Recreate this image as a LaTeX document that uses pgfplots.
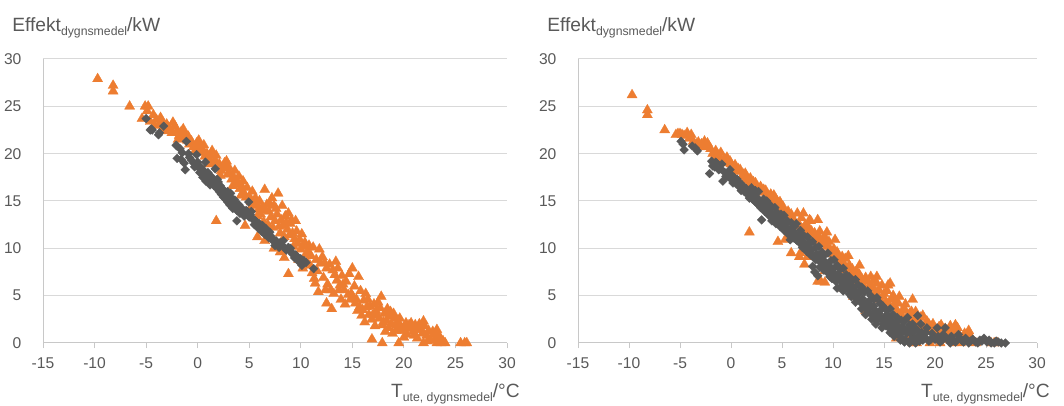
\documentclass[border=0pt]{standalone}
\usepackage{pgfplots}
\pgfplotsset{compat=1.18}
\usepackage{fontspec}
\setmainfont{Liberation Sans}
\definecolor{exorange}{HTML}{ED7D31}
\definecolor{exdark}{HTML}{595959}
\definecolor{txtgray}{HTML}{595959}
\definecolor{gridgray}{HTML}{D9D9D9}
\definecolor{axgray}{HTML}{C8C8C8}

\pgfplotsset{
  panel/.style={
    scale only axis, width=348pt, height=213pt,
    xmin=-15, xmax=30, ymin=0, ymax=30,
    xtick={-15,-10,...,30}, ytick={0,5,...,30},
    xticklabels={-15,-10,-5,0,5,10,15,20,25,30},
    yticklabels={0,5,10,15,20,25,30},
    axis x line*=bottom, axis y line*=left,
    axis line style={axgray, line width=0.75pt},
    ymajorgrids, grid style={gridgray, line width=0.75pt},
    tick align=outside, major tick length=4pt,
    xtick style={axgray, line width=0.75pt},
    ytick style={draw=none},
    ticklabel style={font=\fontsize{11.7}{13}\selectfont, text=txtgray, inner sep=0pt},
    xticklabel style={anchor=north, yshift=-7pt},
    yticklabel style={anchor=east, xshift=-12pt},
    clip=false,
  },
  ora/.style={only marks, mark=triangle*, mark size=4.4pt,
    mark options={fill=exorange, draw=exorange, line width=0.2pt}},
  drk/.style={only marks, mark=diamond*, mark size=3.3pt,
    mark options={fill=exdark, draw=exdark, xscale=1.33, line width=0.2pt}},
}
\tikzset{lbl/.style={inner sep=0pt, text=txtgray, font=\fontsize{14.4}{16}\selectfont}}
\newcommand{\sub}[1]{\raisebox{-2.6pt}{\fontsize{9.2}{10}\selectfont #1}}

\begin{document}
\begin{tikzpicture}
\useasboundingbox (0,0) rectangle (798pt,304.5pt);

% left panel
\begin{axis}[panel, at={(32.25pt,47.25pt)}, anchor=south west]
\addplot[ora] table {
x y
-9.7 27.9
-8.2 27.2
-8.2 26.6
-6.6 25.0
-5.1 25.0
-4.8 25.0
-5.4 23.7
-4.3 24.1
-4.6 23.4
-4.0 23.6
-3.8 23.0
-3.5 22.5
-3.4 23.3
-3.0 23.1
-2.7 22.7
-2.5 22.2
-2.2 22.9
-2.0 22.4
-1.8 21.9
-1.6 22.3
-1.3 21.6
-1.2 22.0
-1.0 21.4
-0.8 21.0
-0.6 21.3
-0.4 20.7
-0.1 21.1
0.0 20.4
0.2 20.8
0.3 20.1
0.5 20.4
0.7 19.7
0.9 20.0
1.1 19.4
1.3 19.8
1.5 19.0
1.7 19.3
1.9 18.6
2.1 18.9
2.3 18.2
2.5 18.5
2.8 19.2
2.9 17.8
3.1 18.0
3.3 17.3
3.5 17.5
3.7 16.8
3.9 17.0
4.1 16.3
4.3 16.5
4.5 15.8
4.7 15.4
5.0 15.5
5.2 14.9
5.4 14.5
5.7 14.8
5.9 14.1
6.1 13.6
6.3 14.3
6.5 16.2
6.7 14.6
6.9 13.9
7.1 13.3
7.2 15.3
7.4 14.5
7.5 12.9
7.8 15.8
7.7 13.6
7.9 12.3
8.1 13.0
8.3 12.4
8.5 13.4
8.8 13.7
8.7 12.0
9.0 12.6
9.2 11.6
9.5 12.9
9.4 11.0
9.7 10.5
10.0 9.9
10.2 10.2
10.5 9.4
10.8 10.3
10.6 8.6
10.9 8.2
11.1 7.4
11.3 6.8
11.4 6.3
11.7 5.4
11.8 9.9
12.1 9.1
12.3 8.5
12.5 7.9
12.4 5.6
12.5 4.2
13.0 3.6
12.8 8.3
13.1 7.7
13.3 7.2
13.5 6.6
13.6 7.9
13.8 6.1
14.0 7.1
14.2 5.6
14.4 6.5
14.6 5.1
14.8 4.6
15.0 7.9
15.2 6.0
15.3 4.2
15.6 7.0
15.5 3.4
15.8 5.5
15.9 2.9
16.1 4.5
16.3 5.2
16.4 3.8
16.6 3.0
16.9 2.5
16.9 0.4
17.1 4.1
17.3 3.4
17.5 4.3
17.6 2.6
17.8 4.9
17.9 1.9
17.9 0.0
18.1 3.1
18.3 2.4
18.5 1.6
18.7 3.3
18.9 1.0
19.1 2.6
19.3 1.9
19.5 0.0
19.6 2.6
19.8 1.3
20.0 0.6
20.2 2.1
20.4 1.5
20.7 2.1
20.9 1.2
21.1 1.9
21.3 0.5
21.5 2.0
21.7 1.4
21.9 2.3
21.9 0.0
22.2 0.8
22.4 1.3
22.6 0.3
22.9 0.9
23.2 1.4
23.2 0.0
23.5 0.6
23.8 0.2
24.0 0.0
25.5 0.0
25.9 0.0
26.1 0.0
1.8 12.9
4.6 12.4
5.8 11.2
6.5 10.8
7.4 10.0
8.0 9.6
8.4 9.0
8.8 7.3
9.8 8.8
10.2 7.9
-4.9 24.5
-4.2 23.0
-3.6 23.8
-3.1 22.4
-2.4 23.3
-1.9 21.5
-1.4 22.6
-0.9 21.8
-0.3 20.2
0.1 21.4
0.6 20.9
1.0 18.9
1.4 20.3
1.8 19.8
2.2 17.7
2.6 19.0
3.0 18.6
3.4 16.6
3.6 18.2
4.0 17.6
4.2 15.6
4.4 17.1
4.8 16.4
5.1 14.2
5.3 16.0
5.6 15.3
5.8 13.4
6.0 15.0
6.4 12.8
6.6 14.0
6.8 12.5
7.0 14.7
7.3 12.2
7.6 14.2
8.0 11.6
8.2 14.5
8.4 11.2
8.6 12.7
8.9 11.4
9.1 13.0
9.3 10.2
9.6 11.8
9.9 10.9
10.1 11.5
10.4 10.6
10.7 9.6
11.0 9.2
11.2 10.1
11.5 8.8
11.6 7.6
11.9 8.4
12.2 6.9
12.6 6.2
12.9 5.6
13.2 5.2
13.4 8.6
13.7 5.6
13.9 4.6
14.1 6.2
14.3 4.1
14.7 7.3
14.9 5.2
15.1 4.8
15.4 4.6
15.7 3.8
16.0 3.5
16.2 2.2
16.5 4.6
16.7 3.9
17.0 3.0
17.2 1.8
17.4 2.9
17.7 3.7
18.0 2.2
18.2 1.2
18.4 3.6
18.6 2.8
18.8 2.0
19.0 3.1
19.2 1.3
19.4 2.3
19.7 1.7
20.1 1.7
20.3 0.9
20.5 1.9
20.8 1.6
21.0 0.8
21.2 1.4
21.4 1.7
21.8 1.0
22.0 1.8
22.3 0.2
22.8 1.2
23.0 0.4
23.3 0.9
23.6 0.0
};
\addplot[drk] table {
x y
-5.0 23.7
-4.6 22.5
-4.4 22.5
-3.8 22.0
-3.3 22.9
-2.0 20.8
-2.0 19.5
-1.7 20.5
-1.5 20.1
-1.3 19.0
-1.2 18.3
-1.1 21.3
-0.9 20.0
-0.6 19.3
-0.4 19.0
-0.1 19.9
0.0 19.1
0.1 18.5
0.2 18.0
0.4 17.9
0.6 18.2
0.75 19.1
0.8 17.1
1.0 18.0
1.2 16.7
1.3 17.6
1.5 17.3
1.7 18.4
1.8 16.9
1.9 16.3
2.0 17.0
2.1 16.0
2.2 16.6
2.3 15.7
2.4 16.3
2.5 15.4
2.6 16.0
2.7 15.2
2.8 15.8
2.9 14.9
3.0 15.5
3.1 14.6
3.2 14.7
3.3 15.3
3.4 14.2
3.5 14.9
3.6 14.4
3.8 12.9
3.8 14.0
4.0 14.6
4.1 13.7
4.3 14.2
4.5 13.4
4.7 14.0
4.95 14.9
5.0 13.3
5.2 13.9
5.4 13.0
5.5 12.5
5.7 12.8
5.9 12.1
6.0 12.6
6.2 11.8
6.3 12.4
6.5 11.5
6.6 12.1
6.8 11.3
7.0 11.7
7.2 11.0
7.4 10.7
7.5 10.3
7.7 10.5
7.9 10.1
8.1 10.4
8.3 10.8
8.6 9.8
9.0 10.0
9.2 9.4
9.4 9.0
9.6 9.2
9.8 8.6
10.0 8.9
10.2 8.4
10.3 8.7
11.25 7.85
-4.5 22.6
-3.7 22.2
-2.1 20.9
-1.6 19.4
-0.8 19.6
-0.3 18.6
0.3 18.6
0.5 17.5
0.9 17.6
1.1 17.2
1.4 16.9
1.6 16.6
1.9 17.3
2.1 16.4
2.3 16.1
2.5 16.0
2.7 15.6
2.8 15.4
2.9 16.0
3.0 15.0
3.1 15.2
3.2 15.8
3.3 14.6
3.4 15.0
3.5 14.4
3.6 15.1
3.7 14.6
3.9 14.3
4.0 13.9
4.2 14.0
4.4 13.8
4.6 13.6
4.8 13.9
5.1 13.6
5.3 13.2
5.6 12.9
5.8 12.4
6.1 12.2
6.4 11.9
6.7 11.7
6.9 11.1
7.1 11.3
7.3 10.9
7.6 10.8
7.8 10.3
8.0 10.6
8.4 10.1
8.8 10.1
9.1 9.6
9.5 9.3
9.9 8.8
10.1 8.2
10.5 8.5
};
\node[lbl, anchor=base west] at ([xshift=-23.25pt, yshift=20.25pt]rel axis cs:0,1)
  {Effekt\sub{dygnsmedel}/kW};
\node[lbl, anchor=base east] at ([xshift=9.75pt, yshift=-41.25pt]rel axis cs:1,0)
  {T\sub{ute, dygnsmedel}/°C};
\end{axis}

% right panel
\begin{axis}[panel, width=344.25pt, at={(433.5pt,47.25pt)}, anchor=south west]
\addplot[ora] table {
x y
-9.7 26.2
-8.2 24.6
-8.2 24.1
-6.5 22.5
-5.4 22.0
-5.0 22.1
-4.6 21.9
-4.3 22.2
-3.9 22.0
-3.7 21.3
-3.2 21.2
-2.9 21.0
-2.6 21.3
-2.3 21.1
-2.0 20.5
-1.8 20.0
-1.5 20.3
-1.2 19.8
-1.0 20.1
-0.7 19.4
-0.4 19.6
-0.1 19.2
0.2 18.5
0.4 18.8
0.6 18.1
0.9 18.3
1.1 17.6
1.4 17.9
1.6 17.2
1.9 17.4
2.1 16.7
2.4 16.9
2.6 16.3
2.9 16.5
3.1 15.9
3.4 16.1
3.6 15.5
3.9 15.7
4.1 15.0
4.4 15.2
4.6 14.6
4.9 14.2
5.1 14.4
5.3 13.7
5.6 13.9
5.8 13.3
6.1 13.0
6.3 12.6
6.5 13.7
6.8 12.3
7.0 12.0
7.3 12.5
7.5 11.6
7.8 12.9
8.0 11.2
8.2 11.6
8.5 10.9
8.7 11.8
8.9 10.5
9.1 11.1
9.4 10.2
9.6 10.7
9.9 9.7
10.1 9.9
10.3 9.1
10.6 8.9
10.9 9.1
11.1 8.3
11.3 7.7
11.6 8.2
11.8 7.4
12.0 6.9
12.3 7.6
12.5 6.4
12.8 6.8
13.0 5.9
13.3 6.5
13.5 5.5
13.7 7.0
13.9 5.8
14.1 5.0
14.3 6.3
14.6 4.6
14.8 6.1
15.0 5.2
15.2 4.3
15.4 6.1
15.6 3.8
15.9 5.0
16.1 4.3
16.3 3.4
16.5 4.9
16.7 3.0
17.0 3.6
17.2 2.6
17.5 3.1
17.8 4.6
17.9 2.2
18.1 3.3
18.3 1.8
18.6 2.7
18.9 1.5
19.2 2.3
19.5 1.2
19.8 2.0
20.1 1.0
20.4 1.7
20.7 0.7
21.0 1.5
21.3 0.4
21.6 1.2
22.0 1.9
22.3 0.9
22.6 0.3
22.9 1.0
23.3 1.3
23.6 0.5
24.0 0.0
19.5 0.0
17.8 0.0
21.8 0.0
25.5 0.0
26.1 0.0
1.8 11.7
4.6 10.7
5.9 9.5
6.7 9.1
7.2 8.3
8.5 6.5
8.8 6.5
9.2 7.6
10.2 6.9
11.0 5.8
12.0 4.9
13.2 3.4
14.5 3.0
15.5 2.2
16.5 1.5
17.5 0.8
18.5 0.4
20.0 0.3
-5.2 22.1
-4.8 22.0
-4.1 21.6
-3.4 21.0
-2.8 20.7
-2.2 20.8
-1.6 19.7
-1.1 19.5
-0.5 19.0
0.0 18.9
0.3 18.2
0.7 18.4
1.2 17.8
1.5 17.4
1.8 16.9
2.2 17.0
2.5 16.5
2.8 16.1
3.2 16.2
3.5 15.8
3.8 15.3
4.2 15.6
4.5 14.8
4.8 14.9
5.2 14.0
5.5 13.5
5.9 13.6
6.2 12.9
6.6 12.5
6.9 13.2
7.2 11.8
7.6 12.2
7.9 11.8
8.3 10.7
8.6 11.3
9.0 10.6
9.3 11.0
9.7 9.9
10.0 9.4
10.4 9.6
10.8 8.6
11.2 8.9
11.5 7.9
11.9 7.8
12.2 6.9
12.6 7.2
12.9 6.2
13.2 6.9
13.6 6.1
14.0 6.6
14.2 5.4
14.5 5.6
14.9 4.9
15.3 5.5
15.7 4.6
16.0 3.9
16.4 4.2
16.8 3.4
17.1 4.1
17.4 2.8
17.7 3.3
18.0 2.5
18.4 2.2
18.8 2.9
19.1 1.7
19.4 2.0
19.7 1.5
20.3 1.2
20.6 1.9
21.1 1.0
21.5 1.8
21.9 1.4
22.2 1.6
22.5 0.6
23.0 0.2
23.4 0.8
25.8 0.0
16.2 0.5
17.0 1.2
18.2 0.0
19.0 0.6
20.5 0.0
21.5 0.3
22.5 0.0
7.1 13.7
7.7 13.0
8.5 13.0
9.4 11.7
10.2 10.9
11.5 9.2
12.6 8.2
14.3 7.0
15.6 6.3
5.3 10.9
6.8 9.5
7.5 9.1
9.2 6.4
};
\addplot[drk] table {
x y
-4.9 21.3
-4.6 20.4
-3.8 20.8
-3.3 20.3
-2.1 17.9
-1.9 19.2
-1.6 18.6
-1.4 19.0
-1.2 18.3
-0.9 18.9
-0.8 17.1
-0.6 18.0
-0.3 17.6
-0.1 18.3
0.1 17.2
0.3 17.5
0.5 16.8
0.7 17.1
0.9 16.4
1.1 16.7
1.3 16.0
1.5 16.3
1.7 15.6
1.9 15.9
2.1 15.2
2.3 15.5
2.5 14.8
2.7 15.1
2.9 14.3
3.0 13.0
3.1 14.6
3.3 13.9
3.5 14.2
3.7 13.5
3.9 13.8
4.0 12.9
4.2 13.3
4.4 12.6
4.6 13.0
4.8 12.3
5.0 12.6
5.2 11.9
5.4 12.2
5.6 11.5
5.8 10.9
5.9 11.8
6.1 11.1
6.3 11.4
6.5 10.8
6.7 11.0
6.9 10.4
7.1 10.7
7.3 10.0
7.5 10.3
7.7 9.5
7.9 9.8
8.1 9.1
8.2 7.5
8.4 9.4
8.5 7.1
8.6 8.7
8.8 9.0
9.0 8.3
9.2 8.6
9.4 7.9
9.6 8.2
9.8 7.6
10.0 7.8
10.2 7.1
10.4 5.8
10.5 7.3
10.7 6.6
10.9 6.9
11.1 6.2
11.3 6.5
11.5 5.7
11.7 6.0
11.9 5.3
12.1 5.6
12.3 4.8
12.5 5.2
12.7 4.3
12.9 4.7
13.1 3.8
13.3 4.2
13.5 3.3
13.7 3.9
13.9 2.9
14.1 3.5
14.3 2.3
14.5 3.1
14.7 2.6
14.9 2.0
15.1 2.8
15.3 2.2
15.5 1.6
15.7 2.4
15.9 1.3
16.1 1.9
16.3 1.0
16.5 1.6
16.7 0.6
16.9 1.3
17.1 0.3
17.3 2.7
17.5 0.0
17.6 1.0
17.8 2.0
18.0 0.5
18.2 1.4
18.3 2.9
18.5 0.2
18.7 1.1
19.0 0.6
19.2 1.6
19.4 0.2
19.7 1.0
20.0 0.4
20.2 1.6
20.5 0.1
20.8 0.9
21.0 1.6
21.3 0.3
21.6 0.7
22.0 0.1
22.3 0.9
22.6 0.3
23.0 0.5
23.3 0.0
23.7 0.4
24.0 0.1
24.4 0.3
24.8 0.5
25.1 0.1
25.5 0.0
26.0 0.2
26.5 0.0
26.9 0.0
-4.7 21.0
-3.5 20.6
-1.8 18.7
-1.5 19.1
-1.0 18.4
-0.5 17.6
0.0 17.8
0.2 16.9
0.6 17.3
1.0 16.1
1.2 16.5
1.6 16.0
1.8 15.3
2.2 15.7
2.4 14.9
2.6 15.3
2.8 14.7
3.2 14.3
3.4 14.6
3.6 13.9
3.8 14.1
4.1 13.5
4.3 13.0
4.5 13.2
4.7 12.6
4.9 12.9
5.1 12.2
5.3 12.5
5.5 11.8
5.7 12.0
6.0 11.4
6.2 11.7
6.4 10.9
6.6 11.3
6.8 10.7
7.0 10.1
7.2 10.4
7.4 9.7
7.6 9.9
7.8 9.3
8.0 8.1
8.3 8.8
8.7 8.0
8.9 8.6
9.1 7.7
9.3 8.2
9.5 7.4
9.7 7.0
9.9 6.8
10.1 7.4
10.3 6.5
10.6 6.9
10.8 6.0
11.0 5.5
11.2 5.9
11.4 6.2
11.6 5.2
11.8 4.9
12.0 5.9
12.2 4.3
12.4 4.6
12.6 5.4
12.8 3.6
13.0 4.3
13.2 3.0
13.4 3.6
13.6 4.5
13.8 2.5
14.0 3.9
14.2 2.0
14.4 2.7
14.6 3.4
14.8 1.6
15.0 2.5
15.2 1.8
15.4 2.9
15.6 1.1
15.8 1.9
16.0 0.7
16.2 2.2
16.4 1.3
16.6 0.3
16.8 1.7
17.0 0.1
17.2 1.0
17.4 1.5
17.7 0.4
17.9 1.2
18.1 0.0
18.4 0.8
18.8 0.3
19.1 1.1
19.6 0.4
20.3 0.7
20.7 0.3
21.1 0.5
21.5 0.0
21.8 0.3
22.4 0.5
22.8 0.1
23.5 0.2
24.2 0.0
24.6 0.2
25.3 0.3
25.8 0.0
26.2 0.1
2.0 16.4
2.4 16.1
2.7 16.0
3.2 15.2
3.5 15.0
3.8 14.6
4.3 14.3
4.5 13.8
4.9 13.6
5.2 13.5
5.5 12.9
5.9 12.7
6.2 12.3
6.4 12.6
6.8 11.9
7.1 11.4
7.5 11.2
7.7 10.6
8.0 10.7
8.3 10.1
8.6 10.2
8.9 9.6
9.2 9.3
9.5 9.5
9.8 8.7
10.1 8.8
10.4 8.2
10.7 7.8
11.0 7.9
11.3 7.2
11.6 7.0
11.9 6.6
12.2 6.7
12.5 6.1
12.8 5.9
13.1 5.4
13.4 5.5
13.7 5.0
14.0 4.6
14.3 4.8
14.6 4.2
14.9 3.9
15.2 3.5
15.6 3.6
15.9 3.0
16.3 2.7
16.7 2.4
17.0 2.3
17.5 1.9
18.0 1.6
18.6 2.0
};
\node[lbl, anchor=base west] at ([xshift=-23.25pt, yshift=20.25pt]rel axis cs:0,1)
  {Effekt\sub{dygnsmedel}/kW};
\node[lbl, anchor=base east] at ([xshift=9.75pt, yshift=-41.25pt]rel axis cs:1,0)
  {T\sub{ute, dygnsmedel}/°C};
\end{axis}
\end{tikzpicture}
\end{document}
